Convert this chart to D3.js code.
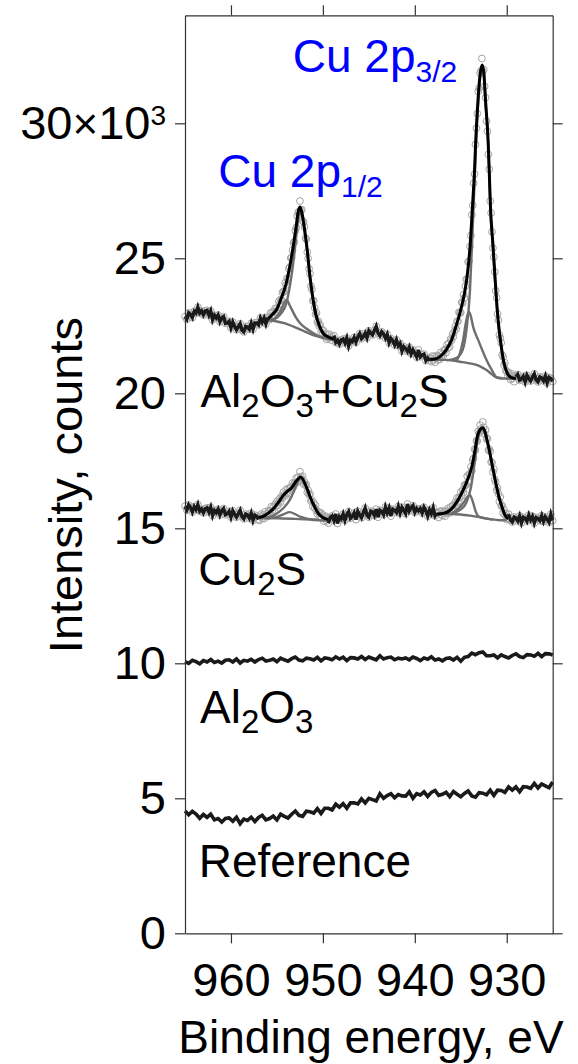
<!DOCTYPE html>
<html>
<head>
<meta charset="utf-8">
<script src="https://cdnjs.cloudflare.com/ajax/libs/d3/7.8.5/d3.min.js"></script>
<style>
body { margin: 0; background: #fff; }
svg { display: block; font-family: "Liberation Sans", Arial, sans-serif; }
</style>
</head>
<body>
<svg id="chart" width="578" height="1064"></svg>
<script>

var xTicks = [960, 950, 940, 930];
var yTicks = [0, 5, 10, 15, 20, 25, 30];   // x10^3 counts

// measured counts (x10^3). Al2O3+Cu2S, cut in pieces: plain parts at 0.2 eV, fitted peaks at 0.1 eV
var alCuPre = [   // 965.0 -> 956.0
  22.84, 22.74, 22.98, 22.92, 22.80, 23.04, 22.97, 23.19, 22.97, 23.05,
  22.90, 23.05, 23.07, 22.89, 23.05, 22.72, 22.89, 22.79, 22.90, 22.65,
  22.79, 22.84, 22.59, 22.60, 22.67, 22.42, 22.64, 22.48, 22.35, 22.47,
  22.58, 22.33, 22.27, 22.48, 22.46, 22.37, 22.59, 22.37, 22.61, 22.61,
  22.53, 22.79, 22.64, 22.79, 22.57, 22.80
];
var alCuP12 = [   // 955.9 -> 949.0
  22.83, 22.73, 22.97, 22.85, 23.01, 22.84, 23.02, 23.14, 23.01, 23.16,
  23.10, 23.41, 23.32, 23.47, 23.44, 23.73, 23.78, 23.76, 24.09, 24.01,
  24.26, 24.23, 24.62, 24.68, 25.01, 25.02, 25.30, 25.57, 25.61, 26.02,
  26.14, 26.57, 26.69, 26.73, 27.12, 26.79, 26.80, 26.38, 26.35, 26.16,
  25.75, 25.71, 25.23, 24.99, 24.61, 24.43, 23.96, 23.85, 23.43, 23.43,
  23.17, 22.92, 22.98, 22.64, 22.67, 22.49, 22.54, 22.26, 22.36, 22.22,
  22.31, 22.10, 22.18, 22.00, 22.17, 22.04, 22.19, 22.05, 21.97, 22.10
];
var alCuGap = [   // 948.8 -> 938.4
  22.14, 21.88, 21.96, 21.82, 21.98, 22.01, 21.86, 22.05, 21.75, 21.96,
  21.91, 22.07, 21.89, 22.09, 22.21, 22.02, 22.10, 22.23, 22.05, 22.32,
  22.23, 22.16, 22.33, 22.48, 22.23, 22.13, 22.28, 22.20, 22.04, 22.18,
  21.87, 22.03, 21.94, 21.79, 21.98, 21.76, 21.85, 21.56, 21.73, 21.66,
  21.55, 21.71, 21.46, 21.61, 21.48, 21.34, 21.61, 21.35, 21.42, 21.45,
  21.21, 21.31, 21.21
];
var alCuP32 = [   // 938.3 -> 929.1
  21.30, 21.17, 21.38, 21.23, 21.36, 21.15, 21.30, 21.40, 21.24, 21.37,
  21.25, 21.51, 21.36, 21.46, 21.38, 21.61, 21.59, 21.51, 21.80, 21.68,
  21.85, 21.72, 22.01, 21.96, 22.19, 22.10, 22.29, 22.47, 22.38, 22.67,
  22.67, 23.00, 22.97, 22.99, 23.37, 23.34, 23.65, 23.53, 23.97, 24.22,
  24.23, 24.87, 24.90, 25.43, 25.84, 26.61, 26.96, 27.78, 28.12, 29.22,
  29.82, 30.36, 31.18, 31.30, 31.86, 31.95, 32.40, 31.93, 31.99, 31.37,
  30.95, 30.08, 29.70, 28.85, 28.30, 27.12, 26.68, 25.98, 25.38, 25.05,
  24.50, 23.80, 23.54, 22.94, 22.71, 22.16, 22.04, 21.87, 21.42, 21.35,
  21.04, 21.13, 20.85, 20.81, 20.63, 20.77, 20.67, 20.51, 20.73, 20.54,
  20.63, 20.43, 20.65
];
var alCuPost = [  // 929.0 -> 925.0
  20.61, 20.70, 20.48, 20.53, 20.63, 20.42, 20.67, 20.55, 20.45, 20.60,
  20.72, 20.49, 20.42, 20.61, 20.57, 20.46, 20.64, 20.38, 20.59, 20.55,
  20.44
];

// Cu2S
var cuPre = [     // 965.0 -> 957.0
  15.82, 15.68, 15.87, 15.77, 15.60, 15.80, 15.69, 15.88, 15.63, 15.71,
  15.57, 15.73, 15.76, 15.60, 15.78, 15.47, 15.66, 15.58, 15.71, 15.49,
  15.65, 15.73, 15.50, 15.54, 15.63, 15.41, 15.65, 15.52, 15.41, 15.55,
  15.67, 15.43, 15.35, 15.53, 15.49, 15.37, 15.56, 15.29, 15.49, 15.45,
  15.33
];
var cuP12 = [     // 956.9 -> 949.5
  15.29, 15.44, 15.53, 15.37, 15.49, 15.36, 15.61, 15.45, 15.54, 15.44,
  15.66, 15.63, 15.54, 15.80, 15.65, 15.78, 15.63, 15.89, 15.83, 16.00,
  15.85, 15.98, 16.10, 15.96, 16.18, 16.12, 16.34, 16.25, 16.20, 16.43,
  16.31, 16.47, 16.28, 16.48, 16.53, 16.40, 16.68, 16.53, 16.67, 16.66,
  16.86, 16.71, 16.89, 16.75, 17.10, 16.91, 16.81, 16.93, 16.64, 16.72,
  16.59, 16.62, 16.33, 16.41, 16.24, 16.27, 16.01, 16.05, 15.81, 15.94,
  15.75, 15.85, 15.66, 15.53, 15.61, 15.57, 15.40, 15.57, 15.39, 15.49,
  15.26, 15.39, 15.45, 15.27, 15.37
];
var cuGap = [     // 949.4 -> 937.6
  15.19, 15.40, 15.46, 15.29, 15.53, 15.18, 15.43, 15.35, 15.53, 15.29,
  15.50, 15.62, 15.37, 15.44, 15.57, 15.32, 15.63, 15.50, 15.39, 15.58,
  15.75, 15.48, 15.41, 15.64, 15.61, 15.47, 15.71, 15.41, 15.67, 15.63,
  15.50, 15.79, 15.58, 15.75, 15.45, 15.71, 15.67, 15.58, 15.81, 15.56,
  15.78, 15.67, 15.54, 15.90, 15.64, 15.76, 15.84, 15.59, 15.73, 15.64,
  15.73, 15.56, 15.78, 15.65, 15.45, 15.68, 15.54, 15.76, 15.46, 15.56
];
var cuP32 = [     // 937.5 -> 929.9
  15.58, 15.40, 15.62, 15.52, 15.65, 15.47, 15.55, 15.63, 15.45, 15.64,
  15.55, 15.74, 15.63, 15.57, 15.79, 15.68, 15.84, 15.66, 15.88, 15.96,
  15.85, 16.13, 15.98, 16.13, 16.13, 16.35, 16.21, 16.42, 16.33, 16.60,
  16.61, 16.60, 16.93, 16.73, 17.00, 17.01, 17.28, 17.14, 17.53, 17.59,
  17.93, 17.90, 18.24, 18.23, 18.59, 18.52, 18.82, 18.68, 18.61, 18.94,
  18.74, 18.50, 18.64, 18.31, 18.32, 17.89, 17.93, 17.85, 17.46, 17.43,
  17.08, 17.19, 16.81, 16.71, 16.41, 16.49, 16.28, 15.99, 16.16, 15.83,
  15.84, 15.56, 15.69, 15.48, 15.56, 15.32, 15.38
];
var cuPost = [    // 929.8 -> 925.0
  15.53, 15.30, 15.23, 15.42, 15.38, 15.27, 15.46, 15.20, 15.41, 15.37,
  15.26, 15.49, 15.31, 15.44, 15.19, 15.40, 15.36, 15.28, 15.47, 15.25,
  15.43, 15.33, 15.22, 15.52, 15.29
];

// Al2O3 and reference, 0.4 eV step, 965.0 -> 925.0
var al2o3Counts = [
  10.06, 10.00, 10.11, 10.06,  9.98, 10.10, 10.05, 10.14, 10.03, 10.08,
  10.01, 10.11, 10.13, 10.05, 10.16, 10.01, 10.11, 10.08, 10.15, 10.05,
  10.14, 10.19, 10.08, 10.11, 10.16, 10.06, 10.19, 10.13, 10.08, 10.17,
  10.23, 10.12, 10.09, 10.19, 10.17, 10.12, 10.22, 10.09, 10.20, 10.18,
  10.13, 10.24, 10.16, 10.23, 10.10, 10.21, 10.20, 10.16, 10.25, 10.14,
  10.23, 10.18, 10.13, 10.28, 10.16, 10.21, 10.23, 10.13, 10.19, 10.16,
  10.20, 10.13, 10.23, 10.18, 10.10, 10.20, 10.15, 10.24, 10.12, 10.16,
  10.09, 10.18, 10.20, 10.12, 10.22, 10.08, 10.22, 10.25, 10.38, 10.32,
  10.39, 10.42, 10.28, 10.28, 10.31, 10.20, 10.31, 10.25, 10.20, 10.29,
  10.35, 10.25, 10.21, 10.32, 10.31, 10.26, 10.37, 10.25, 10.36, 10.35,
  10.31
];
var referenceCounts = [
  4.53, 4.39, 4.52, 4.42, 4.26, 4.40, 4.29, 4.41, 4.20, 4.25,
  4.12, 4.25, 4.27, 4.15, 4.30, 4.06, 4.23, 4.18, 4.30, 4.14,
  4.29, 4.37, 4.20, 4.25, 4.34, 4.20, 4.41, 4.33, 4.27, 4.41,
  4.53, 4.37, 4.33, 4.52, 4.50, 4.45, 4.62, 4.44, 4.63, 4.63,
  4.57, 4.78, 4.67, 4.80, 4.63, 4.83, 4.83, 4.79, 4.98, 4.83,
  5.00, 4.95, 4.90, 5.17, 5.00, 5.10, 5.17, 5.02, 5.14, 5.09,
  5.08, 5.24, 5.00, 5.17, 5.12, 5.24, 5.07, 5.22, 5.29, 5.11,
  5.15, 5.22, 5.06, 5.25, 5.15, 5.06, 5.18, 5.27, 5.09, 5.04,
  5.21, 5.19, 5.13, 5.30, 5.11, 5.30, 5.29, 5.22, 5.42, 5.30,
  5.42, 5.24, 5.43, 5.42, 5.37, 5.55, 5.38, 5.53, 5.46, 5.39,
  5.60
];

// peak fits [eV, x10^3 counts]: envelope, main, satellite and background (Shirley)
var alCuEnv12 = [[956.0,22.74],[955.5,22.92],[955.0,23.12],[954.5,23.55],[954.0,24.05],[953.6,24.7],[953.2,25.5],[952.9,26.2],[952.7,26.7],[952.5,26.9],[952.3,26.72],[952.0,26.1],[951.7,25.3],[951.4,24.32],[951.1,23.55],[950.8,22.98],[950.4,22.52],[950.0,22.24],[949.5,22.1],[948.8,22.0]];
var alCuSat12 = [[955.8,22.70],[955.2,22.78],[954.6,23.05],[954.2,23.35],[953.95,23.46],[953.6,23.25],[953.0,22.85],[952.5,22.6],[951.8,22.4],[951.2,22.26],[950.5,22.12],[949.5,22.04]];
var alCuMain12 = [[955.8,22.70],[955.0,22.8],[954.5,22.98],[954.0,23.3],[953.6,23.95],[953.2,24.9],[952.9,25.8],[952.7,26.4],[952.5,26.72],[952.3,26.6],[952.0,26.0],[951.7,25.2],[951.4,24.22],[951.1,23.47],[950.8,22.92],[950.4,22.48],[950.0,22.22],[949.5,22.08]];
var alCuBg12 = [[956.0,22.70],[955.0,22.66],[954.1,22.59],[953.2,22.47],[952.3,22.34],[951.4,22.2],[950.5,22.1],[949.6,22.03],[948.8,22.0]];

var alCuEnv32 = [[938.4,21.25],[937.8,21.27],[937.3,21.35],[936.6,21.6],[936.0,21.98],[935.5,22.5],[935.0,23.1],[934.6,23.7],[934.27,24.44],[934.0,25.4],[933.73,26.9],[933.5,28.3],[933.37,29.38],[933.1,31.0],[932.9,31.8],[932.68,32.16],[932.5,31.9],[932.3,30.8],[932.03,29.38],[931.9,28.2],[931.77,26.9],[931.5,25.5],[931.3,24.44],[931.1,23.4],[930.9,22.6],[930.6,21.75],[930.4,21.3],[930.2,21.0],[930.0,20.8],[929.6,20.6],[929.0,20.55]];
var alCuSat32 = [[936.0,21.22],[935.5,21.22],[935.1,21.48],[934.75,21.97],[934.4,22.7],[934.13,23.02],[933.9,22.85],[933.66,22.47],[933.1,21.97],[932.6,21.55],[932.2,21.23],[931.6,20.85],[931.1,20.6],[930.5,20.56]];
var alCuMain32 = [[936.5,21.22],[935.5,21.3],[934.8,21.6],[934.4,22.3],[934.0,23.8],[933.73,25.9],[933.5,27.8],[933.37,29.0],[933.1,30.8],[932.9,31.7],[932.68,32.1],[932.5,31.85],[932.3,30.75],[932.03,29.3],[931.9,28.1],[931.77,26.8],[931.5,25.4],[931.3,24.3],[931.1,23.3],[930.9,22.5],[930.6,21.7],[930.4,21.25],[930.2,20.95],[930.0,20.75],[929.6,20.58],[929.0,20.55]];
var alCuBg32 = [[938.4,21.25],[937.0,21.24],[936.0,21.22],[935.1,21.17],[934.2,21.12],[933.3,21.05],[932.7,20.96],[932.2,20.86],[931.6,20.7],[931.1,20.58],[930.5,20.55],[929.0,20.55]];

var cuEnv12 = [[957.0,15.40],[956.4,15.46],[955.8,15.6],[955.4,15.72],[954.9,15.93],[954.4,16.18],[953.9,16.36],[953.4,16.5],[952.9,16.75],[952.4,16.9],[951.9,16.62],[951.4,16.17],[950.9,15.8],[950.5,15.55],[950.0,15.4],[949.4,15.32]];
var cuSat12 = [[956.0,15.37],[955.0,15.42],[954.3,15.52],[953.6,15.6],[953.0,15.52],[952.4,15.42],[951.6,15.35],[950.5,15.32]];
var cuMain12 = [[956.5,15.38],[955.5,15.45],[954.8,15.6],[954.2,15.78],[953.6,16.05],[953.0,16.5],[952.6,16.8],[952.4,16.86],[952.1,16.75],[951.7,16.45],[951.2,16.0],[950.8,15.72],[950.4,15.5],[949.8,15.35]];
var cuBg12 = [[957.0,15.38],[955.0,15.37],[953.0,15.35],[951.0,15.31],[949.4,15.29]];

var cuEnv32 = [[937.6,15.52],[936.8,15.56],[936.2,15.66],[935.8,15.8],[935.3,16.05],[934.9,16.3],[934.5,16.6],[934.1,16.95],[933.8,17.28],[933.5,17.8],[933.2,18.4],[932.9,18.66],[932.6,18.72],[932.4,18.6],[932.2,18.35],[931.9,17.9],[931.5,17.2],[931.1,16.54],[930.8,16.1],[930.6,15.88],[930.2,15.5],[930.0,15.4],[929.8,15.36]];
var cuSat32 = [[936.0,15.56],[935.3,15.72],[934.7,15.95],[934.2,16.2],[934.0,16.23],[933.7,16.0],[933.4,15.65],[933.1,15.45],[932.5,15.38],[931.5,15.32]];
var cuMain32 = [[936.0,15.55],[935.0,15.7],[934.4,15.95],[933.9,16.5],[933.5,17.4],[933.2,18.2],[932.9,18.6],[932.6,18.7],[932.4,18.58],[932.2,18.33],[931.9,17.88],[931.5,17.18],[931.1,16.52],[930.8,16.08],[930.6,15.86],[930.2,15.48],[930.0,15.38]];
var cuBg32 = [[937.6,15.55],[935.5,15.52],[934.0,15.47],[932.8,15.4],[931.8,15.34],[930.8,15.3],[930.0,15.3]];

// [first eV, step eV, counts, part of a fitted peak]
var spectra = [
  {circles: true, parts: [[965.0, 0.2, alCuPre, false], [955.9, 0.1, alCuP12, true], [948.8, 0.2, alCuGap, false],
                          [938.3, 0.1, alCuP32, true], [929.0, 0.2, alCuPost, false]]},
  {circles: true, parts: [[965.0, 0.2, cuPre, false], [956.9, 0.1, cuP12, true], [949.4, 0.2, cuGap, false],
                          [937.5, 0.1, cuP32, true], [929.8, 0.2, cuPost, false]]},
  {circles: false, parts: [[965.0, 0.4, al2o3Counts, false]]},
  {circles: false, parts: [[965.0, 0.4, referenceCounts, false]]}
];
var components = [alCuBg12, alCuSat12, alCuMain12, alCuBg32, alCuSat32, alCuMain32,
                  cuBg12, cuSat12, cuMain12, cuBg32, cuSat32, cuMain32];
var envelopes = [alCuEnv12, alCuEnv32, cuEnv12, cuEnv32];

// labels: [eV, x10^3 counts, parts ([text, subscript?]), colour]
var labels = [
  [953.28, 31.91, [["Cu 2p"], ["3/2", 1]], "#0000ff"],
  [961.38, 27.65, [["Cu 2p"], ["1/2", 1]], "#0000ff"],
  [963.32, 19.5, [["Al"], ["2", 1], ["O"], ["3", 1], ["+Cu"], ["2", 1], ["S"]], "#000"],
  [963.55, 12.9, [["Cu"], ["2", 1], ["S"]], "#000"],
  [963.37, 7.78, [["Al"], ["2", 1], ["O"], ["3", 1]], "#000"],
  [963.5, 2.1, [["Reference"]], "#000"]
];

var plotLeft = 185, plotRight = 552.7, plotTop = 15.3, plotBottom = 933.3;

var x = d3.scaleLinear().domain([965, 925]).range([plotLeft, plotRight]);
var y = d3.scaleLinear().domain([0, 34]).range([plotBottom, plotTop]);

var svg = d3.select("#chart");

var toPoints = p => p[2].map((v, i) => [+(p[0] - p[1] * i).toFixed(2), v]);

// raw data circles
spectra.filter(s => s.circles).forEach(function(s){
    var pts = d3.merge(s.parts.map(toPoints));
    svg.append("g")
        .selectAll("circle")
        .data(pts)
        .enter().append("circle")
        .attr("cx", d => x(d[0]))
        .attr("cy", d => y(d[1]))
        .attr("r", 3.4)
        .attr("fill", "none")
        .attr("stroke", "#a4a4a4")
        .attr("stroke-width", 1);
});

var fitLine = d3.line()
    .x(d => x(d[0]))
    .y(d => y(d[1]))
    .curve(d3.curveMonotoneX);

svg.append("g")
    .selectAll("path")
    .data(components)
    .enter().append("path")
    .attr("d", fitLine)
    .attr("fill", "none")
    .attr("stroke", "#6e6e6e")
    .attr("stroke-width", 2.4);

svg.append("g")
    .selectAll("path")
    .data(envelopes)
    .enter().append("path")
    .attr("d", fitLine)
    .attr("fill", "none")
    .attr("stroke", "#000")
    .attr("stroke-width", 3);

// data lines outside the fitted peaks
var dataLine = d3.line().x(d => x(d[0])).y(d => y(d[1]));
spectra.forEach(function(s){
    svg.append("g")
        .selectAll("path")
        .data(s.parts.filter(p => !p[3]).map(toPoints))
        .enter().append("path")
        .attr("d", dataLine)
        .attr("fill", "none")
        .attr("stroke", "#1a1a1a")
        .attr("stroke-width", s.circles ? 3.4 : 3.6);
});

// axes
var styleAxis = function(g){
    g.attr("font-size", 47).attr("font-family", null);
    g.selectAll(".domain, .tick line").attr("stroke", "#333").attr("stroke-width", 1.2);
    g.selectAll("text").attr("fill", "#000");
};

svg.append("g")
    .attr("transform", "translate(0," + plotBottom + ")")
    .call(d3.axisBottom(x).tickValues(xTicks).tickSize(10).tickPadding(19).tickSizeOuter(0))
    .call(styleAxis);

svg.append("g")
    .attr("transform", "translate(0," + plotTop + ")")
    .call(d3.axisTop(x).tickValues(xTicks).tickSize(10).tickFormat("").tickSizeOuter(0))
    .call(styleAxis);

svg.append("g")
    .attr("transform", "translate(" + plotRight + ",0)")
    .call(d3.axisRight(y).tickValues(yTicks).tickSize(10).tickFormat("").tickSizeOuter(0))
    .call(styleAxis);

svg.append("g")
    .attr("transform", "translate(" + plotLeft + ",0)")
    .call(d3.axisLeft(y).tickValues(yTicks).tickSize(10).tickPadding(9).tickSizeOuter(0))
    .call(styleAxis)
    .selectAll(".tick text")
    .each(function(d){
        if (d !== 30) return;
        var t = d3.select(this).text("");
        t.append("tspan").text("30");
        t.append("tspan").attr("font-size", 44).text("\u00d7");
        t.append("tspan").text("10");
        t.append("tspan").attr("font-size", 28).attr("dy", "-0.5em").text("3");
    });

svg.append("text")
    .attr("transform", "translate(82," + y(16.6) + ") rotate(-90)")
    .attr("text-anchor", "middle")
    .attr("font-size", 47)
    .text("Intensity, counts");

svg.append("text")
    .attr("x", 371)
    .attr("y", 1053)
    .attr("text-anchor", "middle")
    .attr("font-size", 46)
    .text("Binding energy, eV");

// sample / peak labels with subscripts
labels.forEach(function(l){
    var t = svg.append("text")
        .attr("x", x(l[0]))
        .attr("y", y(l[1]))
        .attr("font-size", 46)
        .attr("fill", l[3]);
    var shift = 0;
    l[2].forEach(function(p){
        var sub = p[1] === 1;
        var dy = sub ? 10 - shift : -shift;
        shift = sub ? 10 : 0;
        var ts = t.append("tspan").attr("dy", dy).text(p[0]);
        if (sub) ts.attr("font-size", l[3] === "#000" ? 33 : 30);
    });
});

</script>
</body>
</html>
